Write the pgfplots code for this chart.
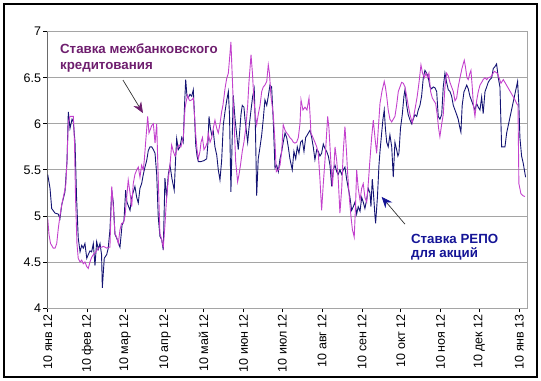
\documentclass[border=0pt]{standalone}
\usepackage{fontspec}
\setmainfont{Liberation Sans}
\usepackage{pgfplots}
\usepackage{pgfplotstable}
\pgfplotsset{compat=1.18}
\usetikzlibrary{arrows.meta}
\definecolor{mag}{RGB}{195,65,205}
\definecolor{navyline}{RGB}{20,20,115}
\definecolor{txtpurple}{RGB}{110,30,110}
\definecolor{txtblue}{RGB}{20,20,150}
\definecolor{gridgray}{RGB}{165,165,165}

\pgfplotstableread{
d r
0 5.45
1.8 5.30
3.1 5.08
5.7 5.03
8.2 5.02
9.5 4.97
10.9 5.12
13.4 5.26
15.0 5.60
16.0 6.13
17.3 5.95
18.9 6.05
19.9 6.02
21.2 5.80
22.4 5.20
23.7 4.76
25.1 4.61
26.4 4.68
27.6 4.65
28.9 4.70
30.3 4.54
31.5 4.58
32.8 4.62
34.1 4.61
35.4 4.70
36.7 4.46
38.0 4.72
39.3 4.64
40.6 4.70
41.8 4.58
42.4 4.22
43.9 4.54
45.8 4.58
47.0 4.65
48.3 4.85
49.7 5.28
50.9 5.15
52.2 4.80
53.8 4.75
56.1 4.66
57.7 4.90
59.2 4.95
60.5 5.28
61.5 5.15
63.9 5.06
65.2 5.20
66.2 5.25
67.7 5.32
69.1 5.20
70.3 5.14
71.6 5.30
72.9 5.35
74.2 5.45
75.5 5.53
76.8 5.60
78.1 5.71
79.4 5.75
80.7 5.75
82.0 5.72
83.3 5.68
84.6 5.45
85.8 4.99
87.1 4.78
88.5 4.74
89.7 4.63
91.0 5.41
92.3 5.20
93.6 5.45
94.9 5.55
96.5 5.40
98.2 5.28
99.2 5.60
100.1 5.84
101.4 5.72
102.7 5.75
104.0 5.85
105.2 5.80
106.2 6.20
107.1 6.48
108.1 6.30
109.1 6.28
110.4 6.32
111.8 6.30
113.0 6.37
113.9 6.10
114.9 5.77
115.9 5.65
116.9 5.59
119.0 5.59
121.3 5.60
123.4 5.62
124.4 5.80
125.2 6.08
126.3 5.95
127.3 5.88
128.5 5.92
129.8 5.75
131.2 5.66
132.4 5.50
133.7 5.39
135.0 5.60
136.3 5.99
137.6 6.13
138.9 6.25
140.2 6.35
141.1 6.10
142.2 5.26
143.3 5.90
144.0 6.31
145.4 6.05
146.7 5.88
147.9 5.72
149.2 5.95
150.0 6.10
151.0 6.20
152.3 6.18
153.1 6.05
155.2 5.80
156.2 5.95
157.8 6.15
159.1 6.30
160.3 6.38
161.3 5.90
162.2 5.22
163.4 5.62
164.8 5.75
166.1 5.88
167.3 6.05
168.6 6.26
170.0 6.20
171.2 6.30
172.5 6.42
173.8 6.40
175.1 6.02
176.4 5.52
177.7 5.55
179.0 5.48
180.3 5.62
181.6 5.70
182.8 5.80
184.2 5.90
185.5 5.85
186.7 5.75
188.0 5.62
189.8 5.50
191.1 5.70
192.5 5.62
193.7 5.75
195.0 5.68
196.3 5.80
197.6 5.82
198.9 5.70
200.2 5.85
201.5 5.88
203.6 5.93
204.9 5.85
206.1 5.75
207.4 5.61
208.8 5.72
210.0 5.70
211.3 5.65
212.6 5.68
213.9 5.78
215.2 5.73
216.5 5.70
217.8 5.65
219.1 5.55
220.4 5.32
221.6 5.50
223.0 5.55
224.3 5.48
225.5 5.45
226.8 5.50
228.2 5.45
229.4 5.50
230.7 5.53
232.0 5.40
233.3 5.30
234.6 5.20
235.9 5.06
237.2 5.10
238.5 5.15
239.8 5.02
241.0 5.10
242.4 5.05
243.7 5.20
244.9 5.15
246.2 5.08
247.6 5.18
248.8 5.30
250.1 5.25
250.9 5.10
251.9 5.40
252.8 5.25
254.0 5.00
254.5 4.92
255.9 5.20
257.1 5.55
257.9 5.70
259.2 5.90
260.2 6.05
261.2 6.15
262.1 5.95
263.1 5.80
264.3 5.75
265.6 5.88
267.0 5.75
268.2 5.42
269.5 5.80
270.8 5.72
271.8 5.65
272.6 5.68
273.8 5.95
275.2 6.10
276.5 6.30
277.3 6.37
278.6 6.20
279.8 6.10
281.2 6.04
282.5 6.00
283.7 6.05
285.0 6.10
286.4 6.08
287.6 6.15
288.9 6.20
290.2 6.30
291.5 6.50
292.8 6.58
294.1 6.55
295.4 6.50
296.7 6.40
298.0 6.38
299.2 6.40
300.6 6.39
301.9 6.35
303.1 6.08
304.4 6.05
305.8 6.10
307.0 6.40
308.3 6.55
309.6 6.45
310.9 6.37
312.2 6.35
313.5 6.30
314.8 6.20
316.1 6.15
317.4 6.10
318.6 6.05
320.0 5.95
320.7 5.91
321.7 6.20
323.1 6.35
323.8 6.37
325.2 6.42
326.4 6.38
327.7 6.30
329.0 6.25
330.3 6.20
331.6 6.15
332.9 6.22
334.2 6.18
335.5 6.15
336.8 6.29
338.0 6.11
339.4 6.35
340.7 6.40
341.9 6.45
343.2 6.48
344.6 6.50
345.8 6.60
347.1 6.62
348.4 6.65
349.7 6.50
351.0 6.40
352.3 5.75
353.6 5.75
354.9 5.75
356.2 5.90
364.7 6.46
365.7 6.20
366.5 5.85
367.8 5.65
369.1 5.57
370.9 5.42
}\repo

\pgfplotstableread{
d r
0 4.97
1.0 4.80
2.2 4.70
3.1 4.68
4.3 4.65
5.7 4.65
7.0 4.70
8.2 4.86
9.5 5.00
10.9 5.12
12.1 5.20
14.0 5.33
15.0 5.60
16.0 6.02
17.3 6.08
18.6 6.08
19.9 6.08
20.8 5.80
21.6 5.20
22.7 4.70
23.7 4.54
25.1 4.50
26.4 4.52
27.6 4.48
28.9 4.50
30.3 4.45
31.5 4.43
32.8 4.50
34.1 4.55
35.4 4.58
36.7 4.60
38.0 4.62
39.3 4.65
40.6 4.66
41.9 4.66
43.1 4.67
44.5 4.66
45.8 4.65
47.0 4.66
48.3 4.66
49.7 5.32
50.9 5.10
52.2 4.81
53.5 4.77
54.8 4.70
56.1 4.85
57.4 4.92
58.7 4.92
60.0 5.00
61.3 5.20
62.5 5.39
63.9 5.25
65.2 5.10
66.4 5.35
67.7 5.45
69.1 5.50
70.3 5.53
71.6 5.42
72.9 5.55
74.2 5.50
75.0 5.61
76.3 5.85
77.6 6.08
78.6 5.90
79.4 5.93
80.7 5.98
82.0 6.00
83.3 5.79
84.6 6.00
85.8 5.40
87.1 4.81
88.5 4.74
89.7 4.66
91.0 4.90
92.3 5.20
93.6 5.40
94.9 5.55
96.2 5.77
97.5 5.70
98.8 5.65
100.3 5.72
101.9 5.77
103.4 5.75
105.2 5.85
106.6 6.17
107.6 6.25
108.6 6.31
109.7 6.26
110.4 6.25
111.8 6.26
113.0 6.28
113.9 6.10
114.9 5.88
115.9 5.72
116.9 5.62
118.2 5.70
119.0 5.80
120.1 5.85
121.3 5.72
122.6 5.75
123.9 5.80
124.6 5.90
126.0 5.80
127.3 5.85
128.5 5.95
129.8 6.04
131.2 5.95
132.4 5.90
133.7 6.00
135.0 6.13
136.0 6.20
137.0 6.31
137.6 6.38
138.9 6.49
140.2 6.55
141.1 6.70
142.2 6.89
143.0 6.60
144.0 6.24
145.0 5.90
145.9 5.59
147.4 5.37
148.5 5.45
149.6 5.55
151.0 5.70
152.3 5.80
153.7 5.95
155.2 6.20
156.2 6.45
157.8 6.75
158.9 6.55
160.1 6.25
161.1 6.10
162.2 5.99
163.4 6.10
164.8 6.20
166.1 6.35
167.3 6.40
168.6 6.42
170.0 6.46
171.2 6.64
172.1 6.55
173.3 6.30
175.1 6.10
176.4 5.80
177.4 5.48
179.0 5.50
180.3 5.55
181.6 5.70
182.8 5.99
184.2 5.93
185.5 5.90
186.7 5.88
188.0 5.85
189.4 5.83
190.6 5.80
191.9 5.79
193.2 5.80
194.5 5.85
195.8 6.00
196.6 6.26
198.1 6.15
199.7 6.18
201.2 6.15
202.8 6.28
203.6 6.10
204.3 5.90
205.9 5.85
207.4 5.80
208.8 5.75
210.0 5.68
211.3 5.40
212.6 5.06
213.9 5.35
215.2 5.60
216.5 5.90
217.3 6.08
218.3 5.95
219.3 5.70
220.9 5.32
222.2 5.55
223.0 5.75
224.3 5.60
225.5 5.40
226.8 5.03
228.2 5.30
229.4 5.70
230.7 5.97
231.9 5.70
232.8 5.46
234.1 5.20
235.4 4.99
236.5 4.85
237.9 4.77
238.9 5.10
239.8 5.50
241.0 5.30
242.4 5.17
243.7 5.30
244.9 5.35
246.2 5.20
247.6 5.15
248.8 5.35
250.1 5.61
251.4 5.85
252.7 6.04
254.0 5.85
255.3 5.68
256.6 5.95
257.9 6.22
259.4 6.35
261.2 6.46
262.1 6.40
263.1 6.30
264.3 6.15
265.6 6.05
267.0 6.02
268.2 6.05
269.5 6.08
270.8 6.20
272.1 6.35
273.4 6.40
274.7 6.45
276.0 6.44
277.3 6.40
278.6 6.30
279.8 6.20
281.2 6.10
282.9 6.01
284.3 6.10
285.6 6.20
286.8 6.30
288.2 6.45
289.7 6.64
290.9 6.55
292.3 6.50
293.6 6.55
294.9 6.50
295.9 6.55
297.2 6.35
298.5 6.28
299.8 6.25
301.1 6.22
302.3 6.10
303.4 5.95
304.4 5.86
305.8 6.00
307.0 6.10
308.3 6.40
309.6 6.55
310.9 6.52
312.2 6.45
313.5 6.40
314.8 6.35
316.1 6.25
317.4 6.28
318.6 6.40
320.0 6.50
321.5 6.60
323.3 6.69
324.2 6.62
325.4 6.50
326.4 6.48
327.7 6.55
328.5 6.58
329.5 6.40
330.4 6.20
331.6 6.08
332.9 6.25
334.2 6.35
335.5 6.42
336.8 6.45
338.0 6.48
339.4 6.50
340.7 6.48
341.9 6.50
344.0 6.51
346.6 6.57
348.9 6.55
350.3 6.50
351.8 6.44
353.6 6.48
362.7 6.26
364.0 6.22
365.0 6.20
365.7 5.35
367.3 5.24
368.8 5.22
370.4 5.21
}\mbk

\begin{document}
\begin{tikzpicture}
\begin{axis}[name=ax, scale only axis, width=479.3bp, height=276.3bp,
  xmin=0, xmax=372, ymin=4, ymax=7,
  xtick={0,31,60,91,121,152,182,213,244,274,305,335,366},
  xticklabels={10 янв 12,10 фев 12,10 мар 12,10 апр 12,10 май 12,10 июн 12,10 июл 12,10 авг 12,10 сен 12,10 окт 12,10 ноя 12,10 дек 12,10 янв 13},
  ytick={4,4.5,5,5.5,6,6.5,7},
  yticklabels={4,4.5,5,5.5,6,6.5,7},
  ymajorgrids, grid style={gridgray, line width=0.7bp},
  axis line style={gridgray, line width=0.7bp},
  tick align=outside, xtick pos=bottom, ytick pos=left,
  major tick length=4.5bp, tick style={black, line width=0.7bp},
  xticklabel style={rotate=90, anchor=east, font=\fontsize{12.5bp}{14bp}\selectfont, inner sep=1.5bp},
  yticklabel style={font=\fontsize{12.5bp}{14bp}\selectfont, inner sep=2bp},
]
\addplot[navyline, line width=0.9bp] table[x=d, y=r] {\repo};
\addplot[mag, line width=0.9bp] table[x=d, y=r] {\mbk};
\draw[black, line width=0.8bp] (rel axis cs:0,1) -- (rel axis cs:0,0) -- (rel axis cs:1,0);
\node[anchor=base west, inner sep=0, text=txtpurple, font=\bfseries\fontsize{13.3bp}{15bp}\selectfont] at (axis cs:9.5,6.758) {Ставка межбанковского};
\node[anchor=base west, inner sep=0, text=txtpurple, font=\bfseries\fontsize{13.3bp}{15bp}\selectfont] at (axis cs:9.5,6.591) {кредитования};
\node[anchor=base west, inner sep=0, text=txtblue, font=\bfseries\fontsize{13.3bp}{15bp}\selectfont] at (axis cs:281.9,4.70) {Ставка РЕПО};
\node[anchor=base west, inner sep=0, text=txtblue, font=\bfseries\fontsize{13.3bp}{15bp}\selectfont] at (axis cs:281.9,4.548) {для акций};
\draw[black!80, line width=0.7bp, -{Stealth[length=11bp, width=9bp, color=txtpurple]}] (axis cs:58.4,6.475) -- (axis cs:73.96,6.116);
\draw[black!80, line width=0.7bp, -{Stealth[length=11bp, width=9bp, color=txtblue]}] (axis cs:277.3,4.91) -- (axis cs:259.2,5.207);
\end{axis}
\draw[black, line width=1.2bp] ([xshift=-43.7bp, yshift=-69bp]ax.south west) rectangle ([xshift=10bp, yshift=27.7bp]ax.north east);
\pgfresetboundingbox
\path ([xshift=-47.7bp, yshift=-73bp]ax.south west) rectangle ([xshift=14bp, yshift=31.7bp]ax.north east);
\end{tikzpicture}
\end{document}
